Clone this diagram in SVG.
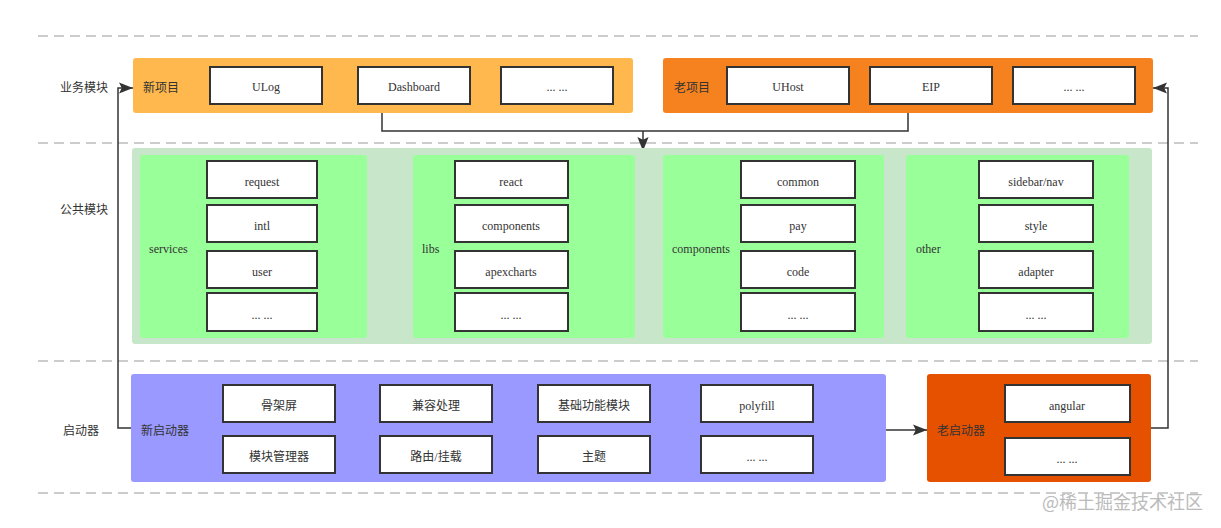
<svg xmlns="http://www.w3.org/2000/svg" width="1221" height="528" viewBox="0 0 1221 528">
<style>
text{font-family:"Liberation Serif","Noto Sans CJK SC",serif;font-size:12px;fill:#333;}
.c{text-anchor:middle;dominant-baseline:central;}
.l{dominant-baseline:central;}
.item{fill:#fff;stroke:#333;stroke-width:2;}
.dash{stroke:#999;stroke-width:1;stroke-dasharray:10 6;fill:none;}
.conn{stroke:#333;stroke-width:1.5;fill:none;}
.green{fill:#99ff99;}
</style>
<defs>
<marker id="ahb" viewBox="0 0 10 10" refX="10" refY="5" markerWidth="14" markerHeight="14" markerUnits="userSpaceOnUse" orient="auto">
<path d="M0,1 L10,5 L0,9 L2,5 z" fill="#333"/>
</marker>
</defs>
<rect width="1221" height="528" fill="#fff"/>
<g id="lanes">
<line class="dash" x1="38" y1="36" x2="1198" y2="36"/>
<line class="dash" x1="38" y1="143" x2="1198" y2="143"/>
<line class="dash" x1="38" y1="361" x2="1198" y2="361"/>
<line class="dash" x1="38" y1="493" x2="1198" y2="493"/>
<text class="l" x="60" y="88">业务模块</text>
<text class="l" x="60" y="210">公共模块</text>
<text class="l" x="63" y="431">启动器</text>
</g>
<g id="connectors">
<polyline class="conn" points="382,104 382,131 908,131 908,104"/>
<line class="conn" x1="643" y1="131" x2="643" y2="151" marker-end="url(#ahb)"/>
<polyline class="conn" points="131,428 118,428 118,88 133,88" marker-end="url(#ahb)"/>
<polyline class="conn" points="1151,428 1168,428 1168,88 1153,88" marker-end="url(#ahb)"/>
<line class="conn" x1="886" y1="430" x2="927" y2="430" marker-end="url(#ahb)"/>
</g>
<g id="new-project">
<rect x="133" y="58" width="500" height="55" rx="3" fill="#ffb84d"/>
<text class="l" x="143" y="88">新项目</text>
<rect class="item" x="210" y="67" width="112" height="37"/><text class="c" x="266" y="87">ULog</text>
<rect class="item" x="358" y="67" width="112" height="37"/><text class="c" x="414" y="87">Dashboard</text>
<rect class="item" x="501" y="67" width="112" height="37"/><text class="c" x="557" y="87">... ...</text>
</g>
<g id="old-project">
<rect x="663" y="58" width="490" height="55" rx="3" fill="#f5821f"/>
<text class="l" x="674" y="88">老项目</text>
<rect class="item" x="727" y="67" width="122" height="37"/><text class="c" x="788" y="87">UHost</text>
<rect class="item" x="870" y="67" width="122" height="37"/><text class="c" x="931" y="87">EIP</text>
<rect class="item" x="1013" y="67" width="122" height="37"/><text class="c" x="1074" y="87">... ...</text>
</g>
<g id="common">
<rect x="132" y="148" width="1020" height="196" rx="3" fill="#c8e6c9"/>
</g>
<g id="services">
<rect class="green" x="140" y="155" width="227" height="183" rx="3"/>
<text class="l" x="149" y="249">services</text>
<rect class="item" x="207" y="161" width="110" height="37"/><text class="c" x="262" y="182">request</text>
<rect class="item" x="207" y="205" width="110" height="37"/><text class="c" x="262" y="226">intl</text>
<rect class="item" x="207" y="251" width="110" height="37"/><text class="c" x="262" y="272">user</text>
<rect class="item" x="207" y="293" width="110" height="38"/><text class="c" x="262" y="315">... ...</text>
</g>
<g id="libs">
<rect class="green" x="413" y="155" width="222" height="183" rx="3"/>
<text class="l" x="422" y="249">libs</text>
<rect class="item" x="455" y="161" width="113" height="37"/><text class="c" x="511" y="182">react</text>
<rect class="item" x="455" y="205" width="113" height="37"/><text class="c" x="511" y="226">components</text>
<rect class="item" x="455" y="251" width="113" height="37"/><text class="c" x="511" y="272">apexcharts</text>
<rect class="item" x="455" y="293" width="113" height="38"/><text class="c" x="511" y="315">... ...</text>
</g>
<g id="components">
<rect class="green" x="663" y="155" width="221" height="183" rx="3"/>
<text class="l" x="672" y="249">components</text>
<rect class="item" x="741" y="161" width="114" height="37"/><text class="c" x="798" y="182">common</text>
<rect class="item" x="741" y="205" width="114" height="37"/><text class="c" x="798" y="226">pay</text>
<rect class="item" x="741" y="251" width="114" height="37"/><text class="c" x="798" y="272">code</text>
<rect class="item" x="741" y="293" width="114" height="38"/><text class="c" x="798" y="315">... ...</text>
</g>
<g id="other">
<rect class="green" x="906" y="155" width="223" height="183" rx="3"/>
<text class="l" x="916" y="249">other</text>
<rect class="item" x="979" y="161" width="114" height="37"/><text class="c" x="1036" y="182">sidebar/nav</text>
<rect class="item" x="979" y="205" width="114" height="37"/><text class="c" x="1036" y="226">style</text>
<rect class="item" x="979" y="251" width="114" height="37"/><text class="c" x="1036" y="272">adapter</text>
<rect class="item" x="979" y="293" width="114" height="38"/><text class="c" x="1036" y="315">... ...</text>
</g>
<g id="new-launcher">
<rect x="131" y="374" width="755" height="108" rx="3" fill="#9999ff"/>
<text class="l" x="141" y="431">新启动器</text>
<rect class="item" x="223" y="385" width="112" height="37"/><text class="c" x="279" y="406">骨架屏</text>
<rect class="item" x="380" y="385" width="112" height="37"/><text class="c" x="436" y="406">兼容处理</text>
<rect class="item" x="538" y="385" width="112" height="37"/><text class="c" x="594" y="406">基础功能模块</text>
<rect class="item" x="701" y="385" width="112" height="37"/><text class="c" x="757" y="406">polyfill</text>
<rect class="item" x="223" y="436" width="112" height="37"/><text class="c" x="279" y="457">模块管理器</text>
<rect class="item" x="380" y="436" width="112" height="37"/><text class="c" x="436" y="457">路由/挂载</text>
<rect class="item" x="538" y="436" width="112" height="37"/><text class="c" x="594" y="457">主题</text>
<rect class="item" x="701" y="436" width="112" height="37"/><text class="c" x="757" y="457">... ...</text>
</g>
<g id="old-launcher">
<rect x="927" y="374" width="224" height="108" rx="3" fill="#e65100"/>
<text class="l" x="937" y="431">老启动器</text>
<rect class="item" x="1005" y="385" width="125" height="37"/><text class="c" x="1067" y="406">angular</text>
<rect class="item" x="1005" y="438" width="125" height="37"/><text class="c" x="1067" y="459">... ...</text>
</g>
<text x="1042" y="509" style="font-family:'Noto Sans CJK SC','Liberation Sans',sans-serif;font-size:18px;fill:#bbb;">@稀土掘金技术社区</text>
</svg>
